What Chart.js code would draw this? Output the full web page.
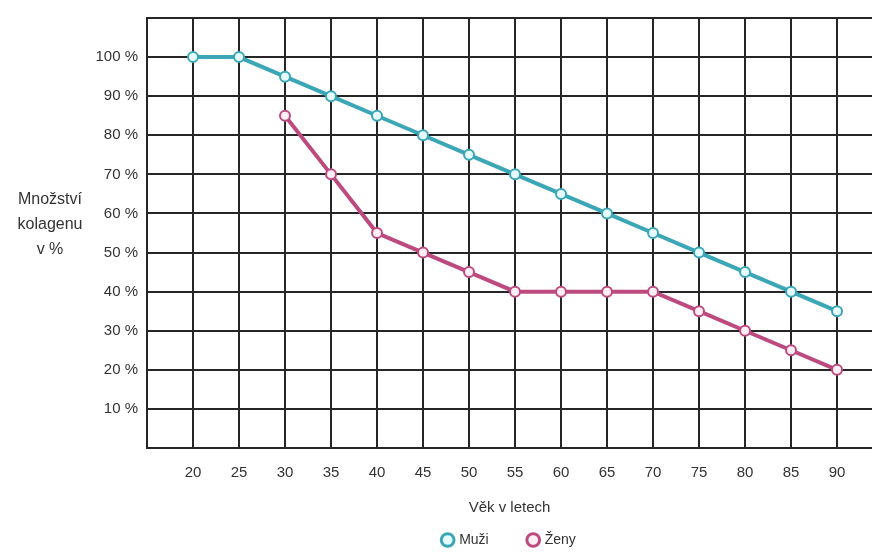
<!DOCTYPE html>
<html lang="cs">
<head>
<meta charset="utf-8">
<title>Množství kolagenu podle věku</title>
<script src="https://cdn.jsdelivr.net/npm/chart.js@4/dist/chart.umd.min.js"></script>
<style>
  html, body { margin: 0; padding: 0; background: #ffffff; }
  #wrap { width: 872px; height: 554px; }
</style>
</head>
<body>
<div id="wrap"><canvas id="chart" width="872" height="554"></canvas></div>
<script>
// Age groups (years) shown on the horizontal axis
const ages = [20, 25, 30, 35, 40, 45, 50, 55, 60, 65, 70, 75, 80, 85, 90];

// Collagen amount in % for men and women (women's series starts at 30)
const muzi = [100, 100, 95, 90, 85, 80, 75, 70, 65, 60, 55, 50, 45, 40, 35];
const zeny = [null, null, 85, 70, 55, 50, 45, 40, 40, 40, 40, 35, 30, 25, 20];

// Series names and axis texts
const seriesNames = ['Muži', 'Ženy'];
const yTitleLines = ['Množství', 'kolagenu', 'v %'];
const xTitle = 'Věk v letech';

const toPoints = (vals) => ages.map((a, i) => ({ x: a, y: vals[i] }));

const FONT = '"Liberation Sans", Arial, sans-serif';
const TEXT = '#333333';
const GRID = '#262626';

// Horizontal three-line title left of the value axis
const yTitlePlugin = {
  id: 'yTitle',
  afterDraw(chart) {
    const { ctx } = chart;
    ctx.save();
    ctx.font = '16px ' + FONT;
    ctx.fillStyle = TEXT;
    ctx.textAlign = 'center';
    ctx.textBaseline = 'middle';
    yTitleLines.forEach((t, i) => ctx.fillText(t, 50, 200 + i * 25));
    ctx.restore();
  }
};

// The legend uses wide item spacing (which also pads its top); move its box
// up so the row sits just below the axis title.
const LEGEND_TOP = 493;
const legendPlace = {
  id: 'legendPlace',
  afterLayout(chart) {
    const lg = chart.legend;
    if (!lg) return;
    const h = lg.bottom - lg.top;
    lg.top = LEGEND_TOP;
    lg.bottom = LEGEND_TOP + h;
  }
};

new Chart(document.getElementById('chart'), {
  type: 'line',
  data: {
    datasets: [
      {
        label: seriesNames[0],
        data: toPoints(muzi),
        borderColor: '#3aa6b6',
        backgroundColor: '#3aa6b6',
        borderWidth: 4,
        pointRadius: 5,
        pointBorderWidth: 2,
        pointBackgroundColor: '#e6fbfd',
        pointBorderColor: '#3aa6b6',
        tension: 0
      },
      {
        label: seriesNames[1],
        data: toPoints(zeny),
        borderColor: '#bd4a7f',
        backgroundColor: '#bd4a7f',
        borderWidth: 4,
        pointRadius: 5,
        pointBorderWidth: 2,
        pointBackgroundColor: '#fdeef4',
        pointBorderColor: '#bd4a7f',
        tension: 0,
        spanGaps: false
      }
    ]
  },
  options: {
    responsive: false,
    animation: false,
    layout: { autoPadding: false, padding: { left: 0, right: 0, top: 16, bottom: -36 } },
    plugins: {
      tooltip: { enabled: false },
      legend: {
        position: 'bottom',
        fullSize: false,
        labels: {
          usePointStyle: true,
          boxWidth: 9,
          boxHeight: 9,
          padding: 40,
          color: TEXT,
          font: { family: FONT, size: 14 },
          generateLabels(chart) {
            return chart.data.datasets.map((ds, i) => ({
              text: ds.label,
              fillStyle: ds.pointBackgroundColor,
              strokeStyle: ds.borderColor,
              lineWidth: 3,
              pointStyle: 'circle',
              fontColor: TEXT,
              datasetIndex: i,
              hidden: false
            }));
          }
        }
      }
    },
    scales: {
      x: {
        type: 'linear',
        min: 15,
        max: 93.8,
        afterFit(scale) { scale.height = 78; },
        grid: { color: GRID, lineWidth: 2, drawTicks: false },
        border: { color: GRID, width: 2 },
        ticks: {
          stepSize: 5,
          includeBounds: false,
          padding: 16,
          color: TEXT,
          font: { family: FONT, size: 15 },
          callback: (v) => (ages.includes(v) ? String(v) : '')
        },
        title: {
          display: true,
          text: xTitle,
          color: TEXT,
          font: { family: FONT, size: 15 },
          padding: { top: 8, bottom: 9 }
        }
      },
      y: {
        min: 0,
        max: 110,
        afterFit(scale) { scale.width = 147; },
        grid: { color: GRID, lineWidth: 2, drawTicks: false },
        border: { color: GRID, width: 2 },
        ticks: {
          stepSize: 10,
          padding: 9,
          color: TEXT,
          font: { family: FONT, size: 15 },
          callback: (v) => (v > 0 && v <= 100 ? v + ' %' : '')
        }
      }
    }
  },
  plugins: [yTitlePlugin, legendPlace]
});
</script>
</body>
</html>
